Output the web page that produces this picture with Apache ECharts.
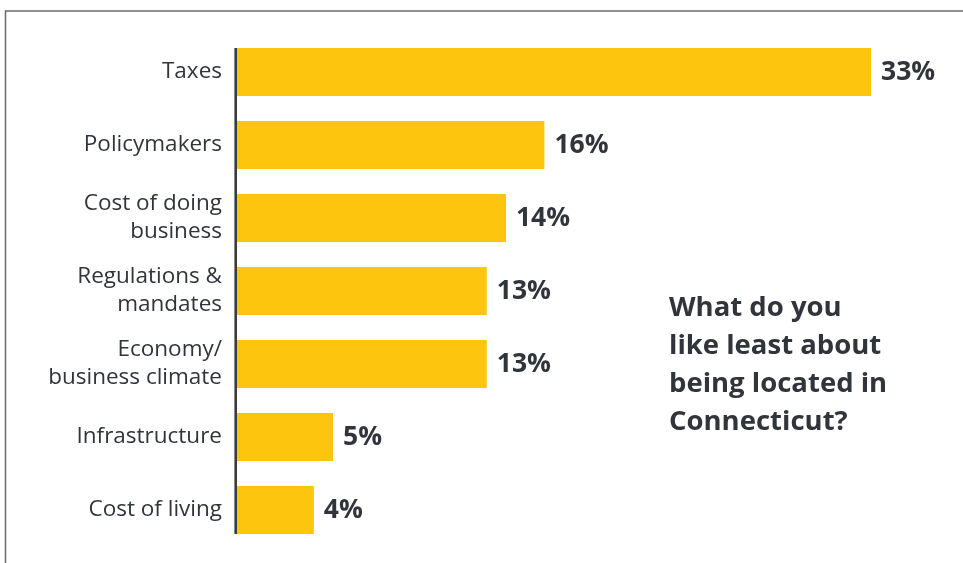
<!DOCTYPE html>
<html>
<head>
<meta charset="utf-8">
<style>
  html, body { margin: 0; padding: 0; background: #ffffff; }
  #chart { width: 963px; height: 563px; }
</style>
<script src="https://cdn.jsdelivr.net/npm/echarts@6/dist/echarts.min.js"></script>
</head>
<body>
<div id="chart"></div>
<script>
// Survey answers, top to bottom
const categories = [
  'Taxes',
  'Policymakers',
  'Cost of doing\nbusiness',
  'Regulations &\nmandates',
  'Economy/\nbusiness climate',
  'Infrastructure',
  'Cost of living'
];
const shares = [33, 16, 14, 13, 13, 5, 4];
const question = 'What do you\nlike least about\nbeing located in\nConnecticut?';

const BAR_W = 48;
const TEXT = '#31353b';
const FONT = 'Open Sans';

const chart = echarts.init(document.getElementById('chart'), null, { renderer: 'canvas' });

chart.setOption({
  backgroundColor: '#ffffff',
  animation: false,
  title: {
    text: question,
    left: 664,
    top: 284,
    textStyle: {
      fontFamily: FONT,
      fontWeight: 'bold',
      fontSize: 27.5,
      lineHeight: 38,
      color: TEXT
    }
  },
  grid: { left: 237, right: 92, top: 35.5, bottom: 16.5, containLabel: false },
  xAxis: {
    type: 'value',
    min: 0,
    max: 33,
    show: false
  },
  yAxis: {
    type: 'category',
    inverse: true,
    data: categories,
    axisLine: { show: false },
    axisTick: { show: false },
    axisLabel: {
      margin: 15,
      fontFamily: FONT,
      fontSize: 22.5,
      lineHeight: 28,
      color: TEXT,
      align: 'right'
    }
  },
  series: [{
    type: 'bar',
    data: shares,
    barWidth: BAR_W,
    itemStyle: { color: '#fdc50e' },
    label: {
      show: true,
      position: 'right',
      distance: 10,
      formatter: '{c}%',
      fontFamily: FONT,
      fontWeight: 'bold',
      fontSize: 26.5,
      color: TEXT
    }
  }]
});

// Vertical baseline spanning the bars, plus the outer frame
const firstPt = chart.convertToPixel({ gridIndex: 0 }, [0, 0]);
const lastPt = chart.convertToPixel({ gridIndex: 0 }, [0, categories.length - 1]);
chart.setOption({
  graphic: [
    {
      type: 'line',
      shape: { x1: firstPt[0] - 1.3, y1: firstPt[1] - BAR_W / 2, x2: lastPt[0] - 1.3, y2: lastPt[1] + BAR_W / 2 },
      style: { stroke: '#3b3b3b', lineWidth: 2.6 }
    },
    {
      type: 'polyline',
      shape: { points: [[5.5, 563], [5.5, 11], [963, 11]] },
      style: { stroke: '#6a6a6a', lineWidth: 1.5, fill: null }
    }
  ]
});
</script>
</body>
</html>
